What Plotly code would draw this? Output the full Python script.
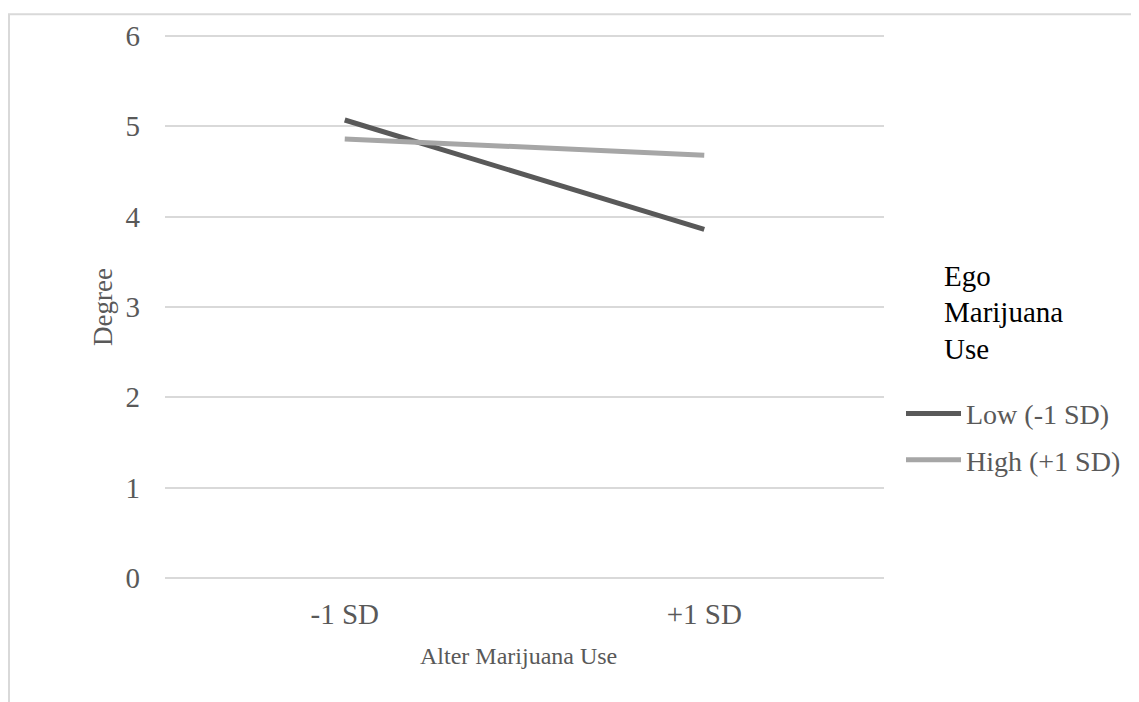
import plotly.graph_objects as go

categories = ["-1 SD", "+1 SD"]
low_values = [5.07, 3.86]
high_values = [4.86, 4.68]
series_names = ["Low (-1 SD)", "High (+1 SD)"]
y_ticks = [0, 1, 2, 3, 4, 5, 6]
legend_title_lines = ["Ego", "Marijuana", "Use"]
x_title = "Alter Marijuana Use"
y_title = "Degree"

# page body has an 8px margin, so the figure is offset by 8px in the window
OFF = 8
PAD = 3  # extra px above/below so the 0 and 6 gridlines are drawn
W, H = 1139 - OFF, 702 - OFF
L, T = 165 - OFF, 31 - OFF - PAD
pw, ph = 719, 547 + 2 * PAD
R, B = W - L - pw, H - T - ph
unit_pad = PAD * 6 / 547

FONT = "Liberation Serif, Times New Roman, serif"
GREY_TXT = "#595959"

fig = go.Figure()
fig.add_trace(go.Scatter(x=categories, y=low_values, mode="lines", name=series_names[0],
                         line=dict(color="#595959", width=5), legendgroup="a"))
fig.add_trace(go.Scatter(x=categories, y=high_values, mode="lines", name=series_names[1],
                         line=dict(color="#A6A6A6", width=5), legendgroup="b"))

# window pixel -> paper coordinates
def px_x(x):
    return (x - OFF - L) / pw

def px_y(y):
    return (H - B - (y - OFF)) / ph

annotations = []
for i, t in enumerate(legend_title_lines):
    annotations.append(dict(text=t, xref="paper", yref="paper", x=px_x(942), y=px_y(273 + 37 * i),
                            xanchor="left", yanchor="middle", showarrow=False,
                            font=dict(family=FONT, size=29, color="#000000")))
annotations.append(dict(text=x_title, xref="paper", yref="paper", x=px_x(518), y=px_y(657),
                        xanchor="center", yanchor="middle", showarrow=False,
                        font=dict(family=FONT, size=24, color=GREY_TXT)))

fig.update_layout(
    width=W, height=H,
    margin=dict(l=L, r=R, t=T, b=B),
    paper_bgcolor="white", plot_bgcolor="white",
    font=dict(family=FONT, size=26, color=GREY_TXT),
    showlegend=True,
    legend=dict(x=px_x(901), y=px_y(387), xanchor="left", yanchor="top",
                font=dict(family=FONT, size=28, color=GREY_TXT),
                itemwidth=55, tracegroupgap=7, bgcolor="rgba(0,0,0,0)"),
    xaxis=dict(type="category", range=[-0.5, 1.5], showgrid=False, zeroline=False,
               showline=False, ticks="", tickfont=dict(family=FONT, size=29, color=GREY_TXT),
               ticklabelstandoff=13),
    yaxis=dict(range=[-unit_pad, 6 + unit_pad], tickvals=y_ticks, showgrid=True, gridcolor="#D9D9D9",
               gridwidth=1.5, zeroline=False, showline=False, ticks="",
               tickfont=dict(family=FONT, size=29, color=GREY_TXT), ticklabelstandoff=24,
               title=dict(text=y_title, font=dict(family=FONT, size=27, color=GREY_TXT), standoff=5)),
    annotations=annotations,
    shapes=[dict(type="rect", xref="paper", yref="paper", x0=px_x(OFF + 1), y0=px_y(720),
                 x1=px_x(1160), y1=px_y(OFF + 1), line=dict(color="#D9D9D9", width=2),
                 fillcolor="rgba(0,0,0,0)", layer="below")],
)

fig.write_html("out.html")
